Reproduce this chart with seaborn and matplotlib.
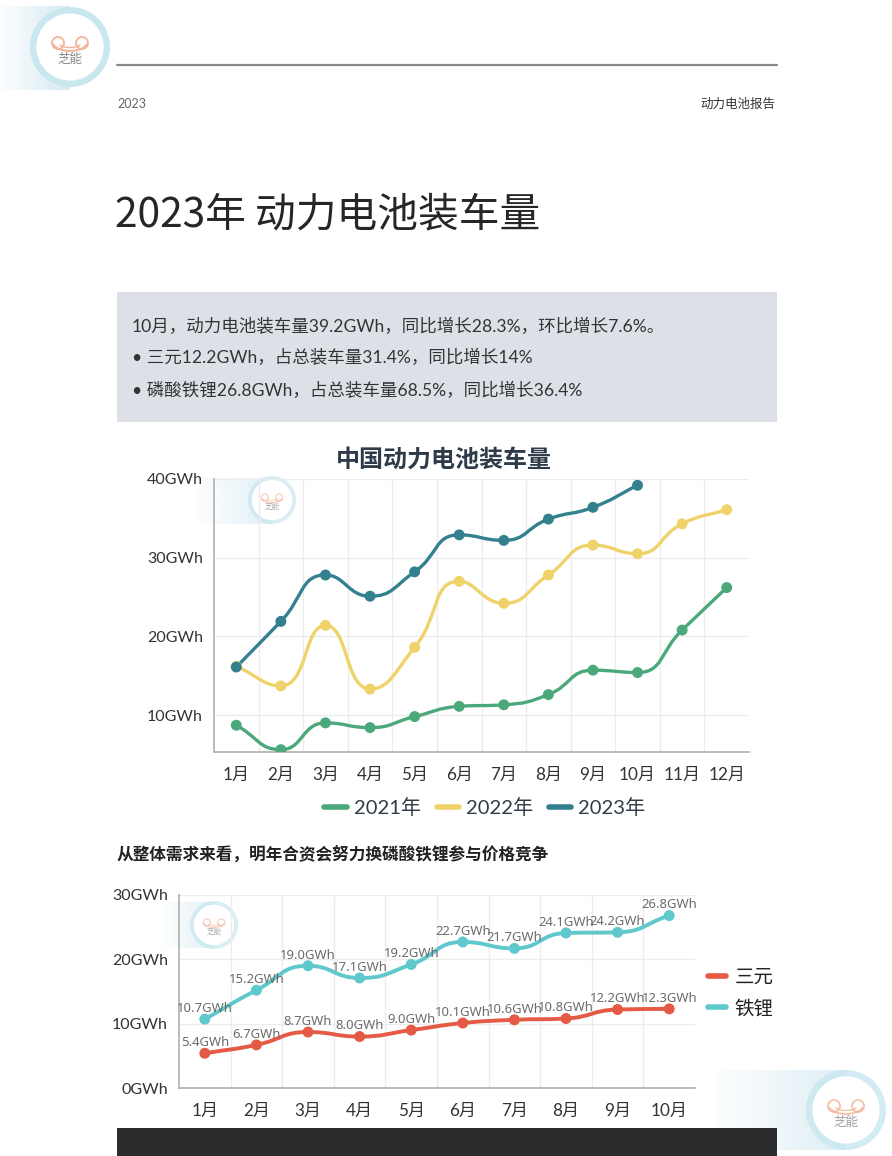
import numpy as np
import pandas as pd
import matplotlib
matplotlib.use("Agg")
import matplotlib.pyplot as plt
import seaborn as sns
from matplotlib.path import Path
from matplotlib.patches import PathPatch, Rectangle, Circle, Arc
from matplotlib.lines import Line2D

# ---- data ----
months12 = ["1月", "2月", "3月", "4月", "5月", "6月", "7月", "8月", "9月", "10月", "11月", "12月"]
vol_2021 = [8.7, 5.6, 9.0, 8.4, 9.8, 11.1, 11.3, 12.6, 15.7, 15.4, 20.8, 26.2]
vol_2022 = [16.2, 13.7, 21.4, 13.3, 18.6, 27.0, 24.2, 27.8, 31.6, 30.5, 34.3, 36.1]
vol_2023 = [16.1, 21.9, 27.8, 25.1, 28.2, 32.9, 32.2, 34.9, 36.4, 39.2]
years = ["2021年", "2022年", "2023年"]
year_colors = ["#4aa87a", "#f0d26a", "#33808e"]

months10 = months12[:10]
ternary = [5.4, 6.7, 8.7, 8.0, 9.0, 10.1, 10.6, 10.8, 12.2, 12.3]
lfp = [10.7, 15.2, 19.0, 17.1, 19.2, 22.7, 21.7, 24.1, 24.2, 26.8]
chem_names = ["三元", "铁锂"]
chem_colors = ["#e55a45", "#5ec8cc"]

df1 = pd.DataFrame({
    "idx": list(range(12)) + list(range(12)) + list(range(10)),
    "value": vol_2021 + vol_2022 + vol_2023,
    "year": [years[0]] * 12 + [years[1]] * 12 + [years[2]] * 10,
})
df2 = pd.DataFrame({
    "idx": list(range(10)) * 2,
    "value": ternary + lfp,
    "type": [chem_names[0]] * 10 + [chem_names[1]] * 10,
})

sns.set_theme(style="white")
plt.rcParams["font.family"] = ["Lato", "Noto Sans CJK SC", "DejaVu Sans"]
CJK = ["Noto Sans CJK SC", "DejaVu Sans"]

W, H = 892, 1156
fig = plt.figure(figsize=(W / 100, H / 100), dpi=100)
fig.patch.set_facecolor("white")


def fx(px):
    return px / W


def fy(py):
    return 1 - py / H


# background layer in pixel coords
bg = fig.add_axes([0, 0, 1, 1], zorder=0)
bg.set_xlim(0, W)
bg.set_ylim(H, 0)
bg.axis("off")


def draw_logo(cx, cy, r, band_left, band_top, band_bot, alpha=1.0):
    # fading blue band leading into the ring
    grad = np.zeros((2, 64, 4))
    grad[..., :3] = matplotlib.colors.to_rgb("#cfe6f0")
    grad[..., 3] = np.linspace(0.05, 0.85, 64) * alpha
    bg.imshow(grad, extent=(band_left, cx, band_bot, band_top), aspect="auto", zorder=1)
    bg.add_patch(Circle((cx, cy), r, color="#c8e7ef", alpha=alpha, lw=0, zorder=2))
    bg.add_patch(Circle((cx, cy), r * 0.84, color="white", lw=0, zorder=3))
    s = r / 40
    peach = "#f3b39a"
    bg.add_patch(Arc((cx, cy - 6 * s), 36 * s, 20 * s, theta1=10, theta2=170,
                     color=peach, lw=1.4 * s, alpha=alpha, zorder=4))
    bg.add_patch(Arc((cx, cy - 6 * s), 26 * s, 13 * s, theta1=20, theta2=160,
                     color=peach, lw=1.0 * s, alpha=alpha, zorder=4))
    for dx in (-12, 12):
        bg.add_patch(Circle((cx + dx * s, cy - 4 * s), 6 * s, fill=False, ec=peach,
                            lw=1.3 * s, alpha=alpha, zorder=4))
    bg.text(cx, cy + 12 * s, "芝能", ha="center", va="center", fontsize=9 * s,
            color="#888888", alpha=alpha, family=CJK, zorder=4)


# header
draw_logo(70, 47, 40, 0, 6, 90)
bg.plot([117, 777], [65, 65], color="#8a8a8a", lw=1.6, zorder=1)
bg.text(117, 104, "2023", fontsize=9, color="#666666", va="center", ha="left")
bg.text(775, 104, "动力电池报告", fontsize=9, color="#333333", va="center", ha="right", family=CJK)
bg.text(115, 215, "2023年 动力电池装车量", fontsize=29.3, color="#262626", va="center",
        ha="left", family=CJK)

# summary box
bg.add_patch(Rectangle((117, 292), 660, 130, color="#dde1e7", lw=0, zorder=1))
box_lines = [
    "10月，动力电池装车量39.2GWh，同比增长28.3%，环比增长7.6%。",
    "• 三元12.2GWh，占总装车量31.4%，同比增长14%",
    "• 磷酸铁锂26.8GWh，占总装车量68.5%，同比增长36.4%",
]
for line, yy in zip(box_lines, [326, 357, 390]):
    bg.text(132, yy, line, fontsize=12.6, color="#333333", va="center", ha="left", zorder=2)

# watermarks + bottom decorations
draw_logo(272, 500, 24, 195, 478, 524, alpha=0.7)
draw_logo(214, 925, 24, 163, 902, 948, alpha=0.7)
draw_logo(846, 1110, 40, 715, 1070, 1150, alpha=0.8)
bg.add_patch(Rectangle((117, 1128), 660, 30, color="#2a2c2e", lw=0, zorder=5))

bg.text(117, 855, "从整体需求来看，明年合资会努力换磷酸铁锂参与价格竞争", fontsize=12,
        color="#222222", va="center", ha="left", family=CJK, fontweight="bold")
bg.text(444, 460, "中国动力电池装车量", fontsize=17.3, color="#2f3b48", va="center",
        ha="center", family=CJK, fontweight="bold")


def clamp(v, a, b):
    return np.minimum(np.maximum(v, np.minimum(a, b)), np.maximum(a, b))


def smooth_line(ax, xs, ys, color, lw, smooth=0.5):
    pts = ax.transData.transform(np.column_stack([xs, ys]))
    n = len(pts)
    cin = [None] * n
    cout = [None] * n
    for i in range(n):
        p = pts[i]
        prev = pts[i - 1] if i > 0 else p
        nxt = pts[i + 1] if i < n - 1 else p
        v = nxt - prev
        l0 = np.hypot(*(p - prev))
        l1 = np.hypot(*(nxt - p))
        r = l1 / (l0 + l1) if (l0 + l1) > 0 else 0.5
        c_in = p - v * smooth * (1 - r)
        c_out = p + v * smooth * r
        # keep control points inside the neighbouring segments' boxes
        c_out = clamp(c_out, p, nxt)
        if l1 > 0:
            c_in = p - (c_out - p) * l0 / l1
        c_in = clamp(c_in, prev, p)
        if l0 > 0:
            c_out = p + (p - c_in) * l1 / l0
        cin[i], cout[i] = c_in, c_out
    verts = [pts[0]]
    codes = [Path.MOVETO]
    for i in range(n - 1):
        verts += [cout[i], cin[i + 1], pts[i + 1]]
        codes += [Path.CURVE4] * 3
    data = ax.transData.inverted().transform(np.array(verts))
    ax.add_patch(PathPatch(Path(data, codes), fill=False, ec=color, lw=lw,
                           capstyle="round", joinstyle="round", zorder=3))


def style_axes(ax, n, labels, yticks):
    ax.set_facecolor("none")
    ax.set_xlim(-0.5, n - 0.5)
    ax.set_xticks(range(n))
    ax.set_xticklabels(labels)
    ax.set_xticks(np.arange(0.5, n - 1), minor=True)
    ax.set_yticks(yticks)
    ax.set_yticklabels([f"{v}GWh" for v in yticks])
    ax.grid(which="minor", axis="x", color="#ececec", lw=1)
    ax.grid(which="major", axis="y", color="#ececec", lw=1)
    ax.grid(which="major", axis="x", visible=False)
    for side in ("top", "right"):
        ax.spines[side].set_visible(False)
    for side in ("left", "bottom"):
        ax.spines[side].set_color("#b5b5b5")
        ax.spines[side].set_linewidth(1.3)
    ax.tick_params(axis="both", which="major", length=5, width=1, color="#b5b5b5",
                   labelcolor="#333333")
    ax.tick_params(axis="y", labelsize=11.5, pad=3)
    ax.tick_params(axis="x", which="major", pad=6, labelsize=12.3)
    ax.tick_params(axis="x", which="minor", length=0)
    ax.set_xlabel("")
    ax.set_ylabel("")


# ---- chart 1 ----
ax1 = fig.add_axes([fx(214), fy(752), fx(749 - 214), (752 - 479) / H], zorder=1)
style_axes(ax1, 12, months12, [10, 20, 30, 40])
ax1.set_ylim(5.3, 40)
for yr, col in zip(years, year_colors):
    sub = df1[df1["year"] == yr]
    smooth_line(ax1, sub["idx"].values, sub["value"].values, col, 2.4)
sns.scatterplot(data=df1, x="idx", y="value", hue="year", palette=year_colors,
                s=62, edgecolor="none", legend=False, zorder=4, ax=ax1)
ax1.set_xlabel("")
ax1.set_ylabel("")
handles = [Line2D([], [], color=c, lw=4) for c in year_colors]
fig.legend(handles, years, loc="center", bbox_to_anchor=(fx(485), fy(808)), ncol=3,
           frameon=False, fontsize=14.5, handlelength=1.1, handletextpad=0.35,
           columnspacing=0.8, labelcolor="#2f3b48")

# ---- chart 2 ----
ax2 = fig.add_axes([fx(179), fy(1088), fx(695 - 179), (1088 - 895) / H], zorder=1)
style_axes(ax2, 10, months10, [0, 10, 20, 30])
ax2.set_ylim(0, 30)
for name, col in zip(chem_names, chem_colors):
    sub = df2[df2["type"] == name]
    smooth_line(ax2, sub["idx"].values, sub["value"].values, col, 2.8)
    for i, v in zip(sub["idx"], sub["value"]):
        ax2.annotate(f"{v:.1f}GWh", (i, v), xytext=(0, 3), textcoords="offset points",
                     ha="center", va="bottom", fontsize=9.4, color="#6b6b6b",
                     family=["Noto Sans", "DejaVu Sans"], zorder=5)
sns.scatterplot(data=df2, x="idx", y="value", hue="type", palette=chem_colors,
                s=62, edgecolor="none", legend=False, zorder=4, ax=ax2)
ax2.set_xlabel("")
ax2.set_ylabel("")
handles2 = [Line2D([], [], color=c, lw=4) for c in chem_colors]
fig.legend(handles2, chem_names, loc="center left", bbox_to_anchor=(fx(690), fy(993)),
           frameon=False, fontsize=14, handlelength=0.95, handletextpad=0.45,
           labelspacing=0.7, labelcolor="#222222")

fig.savefig("out.png", dpi=100, facecolor="white")
